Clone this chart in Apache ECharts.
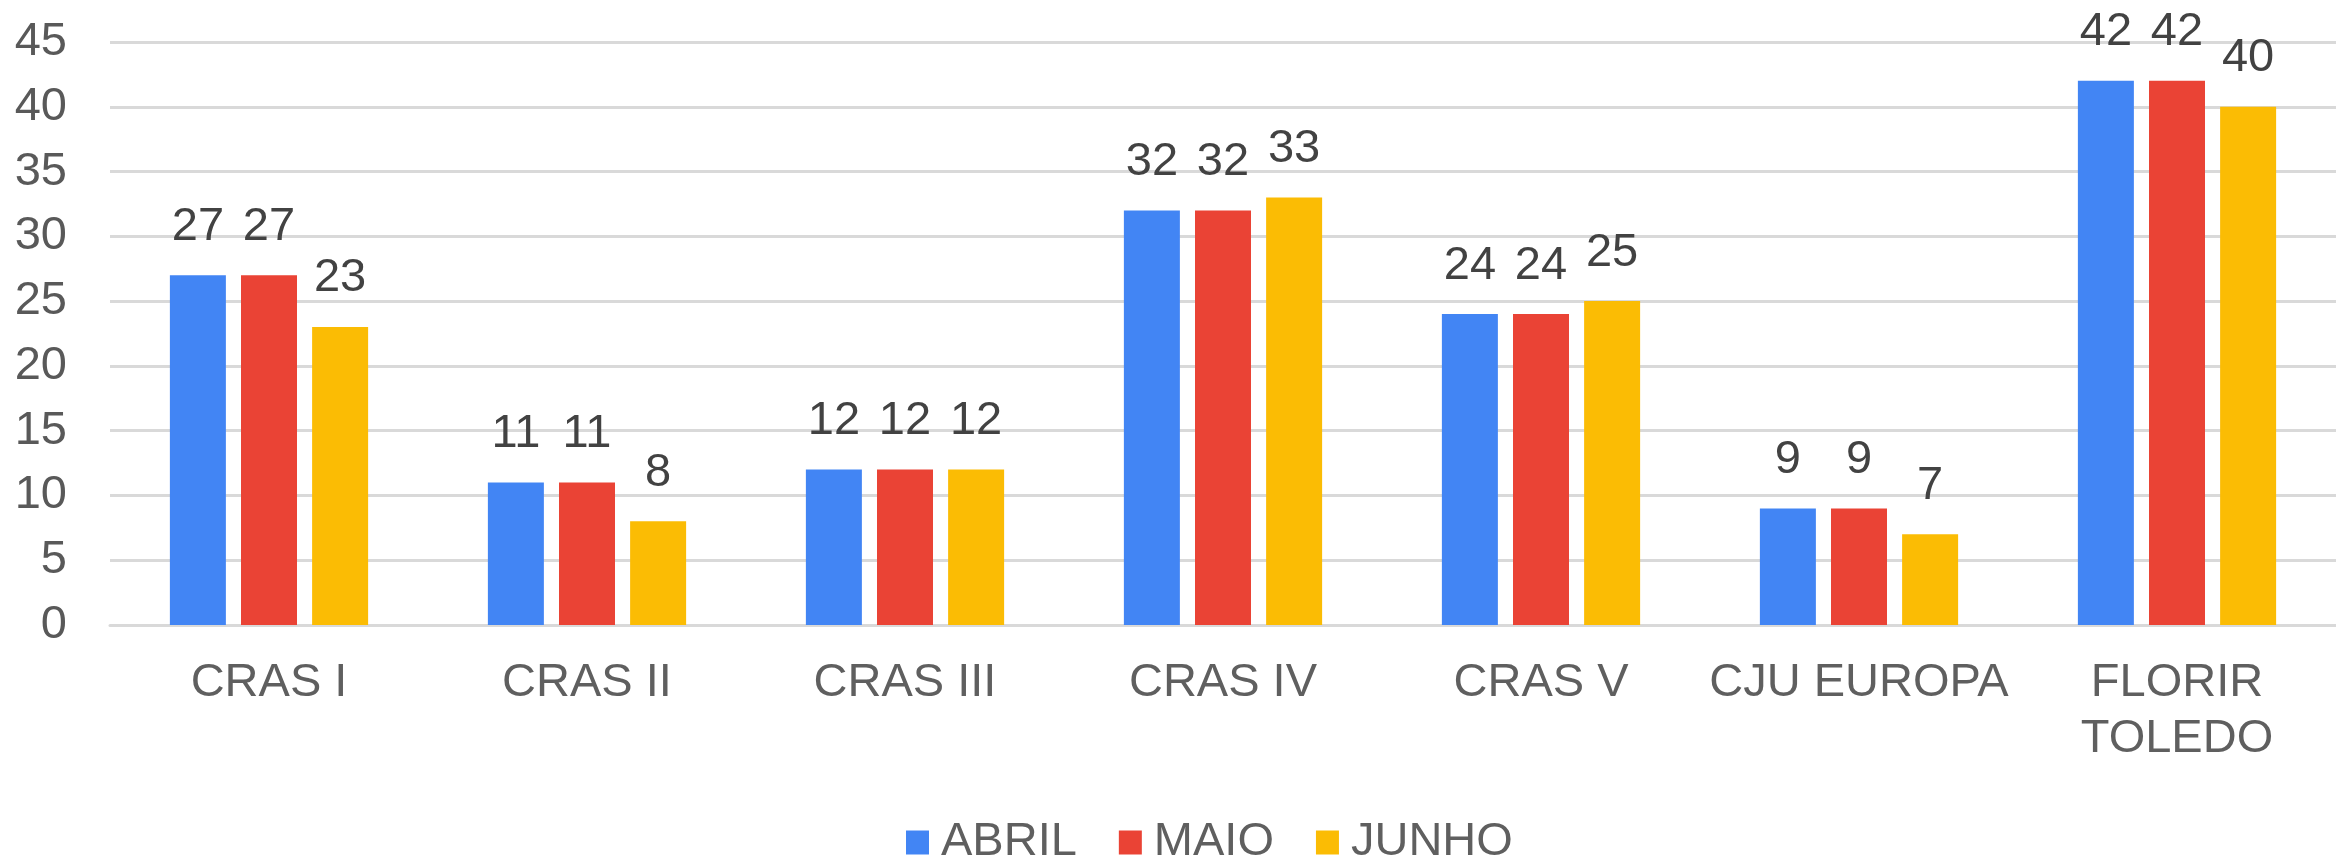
<!DOCTYPE html>
<html>
<head>
<meta charset="utf-8">
<script src="https://cdn.jsdelivr.net/npm/echarts@6/dist/echarts.min.js"></script>
<style>
  html, body { margin: 0; padding: 0; background: #fff; }
  #main { width: 2336px; height: 858px; }
</style>
</head>
<body>
<div id="main"></div>
<script>
   // dados do gráfico
   var categorias = ['CRAS I', 'CRAS II', 'CRAS III', 'CRAS IV', 'CRAS V', 'CJU EUROPA', 'FLORIR\nTOLEDO'];
   var abril = [27, 11, 12, 32, 24, 9, 42];
   var maio  = [27, 11, 12, 32, 24, 9, 42];
   var junho = [23, 8, 12, 33, 25, 7, 40];
   var nomesSeries = ['ABRIL', 'MAIO', 'JUNHO'];
   var cores = ['#4285f4', '#ea4335', '#fbbc04'];

   var fonte = '"Liberation Sans", Arial, sans-serif';

   var myChart = echarts.init(document.getElementById('main'));

   function serie(nome, dados) {
       return {
           name: nome,
           type: 'bar',
           data: dados,
           barWidth: 56,
           barGap: '27%',
           label: {
               show: true,
               position: 'top',
               distance: 25,
               fontFamily: fonte,
               fontSize: 47,
               color: '#424242'
           }
       };
   }

   myChart.setOption({
       animation: false,
       color: cores,
       textStyle: { fontFamily: fonte },
       grid: {
           left: 110,
           right: -18,
           top: 42,
           bottom: 233,
           containLabel: false
       },
       legend: {
           data: nomesSeries,
           left: 901,
           top: 814,
           icon: 'rect',
           itemWidth: 23,
           itemHeight: 24,
           itemGap: 42,
           textStyle: {
               fontFamily: fonte,
               fontSize: 47,
               color: '#5f5f5f',
               padding: [0, 0, 0, 7]
           }
       },
       xAxis: {
           type: 'category',
           data: categorias,
           axisTick: { show: false },
           axisLine: { show: true, lineStyle: { color: '#d9d9d9', width: 3 } },
           axisLabel: {
               margin: 30,
               fontFamily: fonte,
               fontSize: 47,
               lineHeight: 56,
               color: '#5f5f5f',
               interval: 0
           }
       },
       yAxis: {
           type: 'value',
           min: 0,
           max: 45,
           interval: 5,
           axisLine: { show: false },
           axisTick: { show: false },
           splitLine: { lineStyle: { color: '#d9d9d9', width: 3 } },
           axisLabel: {
               margin: 43,
               fontFamily: fonte,
               fontSize: 47,
               color: '#595959'
           }
       },
       series: [
           serie(nomesSeries[0], abril),
           serie(nomesSeries[1], maio),
           serie(nomesSeries[2], junho)
       ]
   });
</script>
</body>
</html>
